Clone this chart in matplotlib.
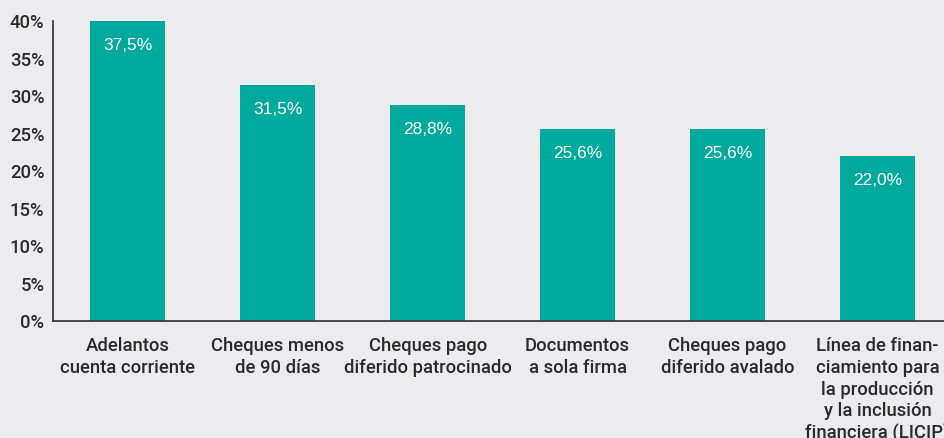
import matplotlib
matplotlib.use("Agg")
import matplotlib.pyplot as plt

categories = [
    "Adelantos\ncuenta corriente",
    "Cheques menos\nde 90 días",
    "Cheques pago\ndiferido patrocinado",
    "Documentos\na sola firma",
    "Cheques pago\ndiferido avalado",
    "Línea de finan-\nciamiento para\nla producción\ny la inclusión\nfinanciera (LICIP)",
]
bar_heights = [40.0, 31.5, 28.8, 25.6, 25.6, 22.0]
value_labels = ["37,5%", "31,5%", "28,8%", "25,6%", "25,6%", "22,0%"]
yticks = [0, 5, 10, 15, 20, 25, 30, 35, 40]
ytick_labels = ["0%", "5%", "10%", "15%", "20%", "25%", "30%", "35%", "40%"]

BG = "#ECECEE"
TEAL = "#00A99D"
TXT = "#2A2A2A"

plt.rcParams["font.family"] = ["Roboto", "Liberation Sans", "DejaVu Sans"]

fig = plt.figure(figsize=(9.45, 4.38), dpi=100, facecolor=BG)
ax = fig.add_axes([0.0558, 0.266, 1.0 - 0.0558, 0.952 - 0.266])
ax.set_facecolor(BG)

x = list(range(len(categories)))
bars = ax.bar(x, bar_heights, width=0.5, color=TEAL, zorder=2)
for xi, h, lab in zip(x, bar_heights, value_labels):
    ax.annotate(lab, (xi, h), xytext=(0, -17.5), textcoords="offset points",
                ha="center", va="center", color="white", fontsize=12.5,
                family=["Liberation Sans", "DejaVu Sans"])

ax.set_xlim(-0.5, 5.45)
ax.set_ylim(0, 40)
ax.set_yticks(yticks)
ax.set_yticklabels(ytick_labels, fontsize=13.3, color=TXT, fontweight="medium")
ax.set_xticks(x)
ax.set_xticklabels(categories, fontsize=13.3, color=TXT, fontweight="medium",
                   linespacing=1.26)
ax.tick_params(axis="y", length=0, pad=6)
ax.tick_params(axis="x", length=0, pad=11.5)
for side in ["top", "right"]:
    ax.spines[side].set_visible(False)
for side in ["left", "bottom"]:
    ax.spines[side].set_color("#3A3A3A")
    ax.spines[side].set_linewidth(1.3)

fig.savefig("out.png", dpi=100, facecolor=BG)
